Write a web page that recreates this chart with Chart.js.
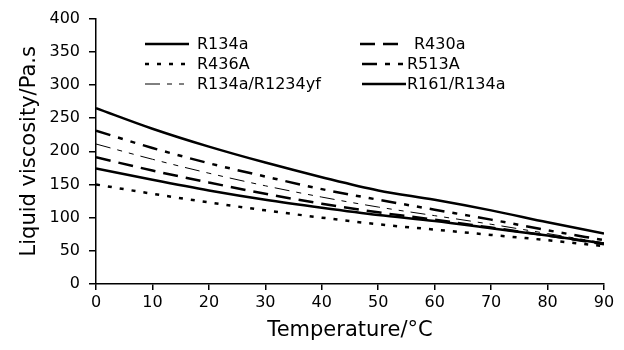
<!DOCTYPE html>
<html>
<head>
<meta charset="utf-8">
<script src="https://cdn.jsdelivr.net/npm/chart.js@4.4.1/dist/chart.umd.min.js"></script>
<style>
  html, body { margin: 0; padding: 0; background: #fff; }
  #wrap { width: 624px; height: 350px; }
</style>
</head>
<body>
<div id="wrap"><canvas id="myChart" width="624" height="350"></canvas></div>
<script>
var temps = [0, 10, 20, 30, 40, 50, 60, 70, 80, 90];
var yTicks = [0, 50, 100, 150, 200, 250, 300, 350, 400];

var r134a     = [265, 234, 207, 183, 161, 141, 127, 111, 93, 76];
var r513a     = [231, 205, 182, 162, 143, 127, 112, 97, 81, 66];
var r134aYf   = [211, 188, 167, 148, 131, 116, 103, 90, 76, 62];
var r430a     = [191, 171, 153, 136, 121, 108, 97, 85, 73, 60];
var r161      = [174, 157, 141, 127, 115, 104, 95, 84, 73, 61];
var r436a     = [150, 136, 123, 111, 100, 90, 82, 74, 66, 57];

var FONT = "'DejaVu Sans', sans-serif";

function pts(vals) {
  return temps.map(function (t, i) { return {x: t, y: vals[i]}; });
}

function ds(label, vals, width, dash, lx, ly, tx) {
  return {
    label: label,
    data: pts(vals),
    borderColor: '#000',
    backgroundColor: '#000',
    borderWidth: width,
    borderDash: dash,
    pointRadius: 0,
    fill: false,
    cubicInterpolationMode: 'monotone',
    // legend placement (own legend below)
    lx: lx, ly: ly, tx: tx
  };
}

var datasets = [
  ds('R134a', r134a, 2.5, [], 145, 44, 197),
  ds('R430a', r430a, 2.5, [15, 8], 360, 44, 414),
  ds('R436A', r436a, 2.5, [4, 8], 145, 64, 197),
  ds('R513A', r513a, 2.5, [15, 8, 5, 8, 5, 8], 362, 64, 407),
  ds('R134a/R1234yf', r134aYf, 1, [15, 7, 5, 7, 5, 7], 145, 84, 197),
  ds('R161/R134a', r161, 2.5, [], 362, 84, 407)
];

var legendPlugin = {
  id: 'gridLegend',
  afterDraw: function (chart) {
    var c = chart.ctx;
    c.save();
    chart.data.datasets.forEach(function (d) {
      c.strokeStyle = '#000';
      c.lineWidth = d.borderWidth;
      c.setLineDash(d.borderDash);
      c.beginPath();
      c.moveTo(d.lx, d.ly);
      c.lineTo(d.lx + 44, d.ly);
      c.stroke();
      c.setLineDash([]);
      c.fillStyle = '#000';
      c.font = '16px ' + FONT;
      c.textBaseline = 'middle';
      c.textAlign = 'left';
      c.fillText(d.label, d.tx, d.ly + 1);
    });
    c.restore();
  }
};

var ctx = document.getElementById('myChart');

var myChart = new Chart(ctx, {
  type: 'line',
  data: { datasets: datasets },
  plugins: [legendPlugin],
  options: {
    responsive: false,
    animation: false,
    layout: { padding: { left: 0, right: 20, top: 18, bottom: 0 } },
    plugins: {
      legend: { display: false },
      tooltip: { enabled: false }
    },
    scales: {
      x: {
        type: 'linear',
        min: 0,
        max: 90,
        afterFit: function (s) { s.height = 66; },
        afterBuildTicks: function (s) { s.ticks = temps.map(function (v) { return {value: v}; }); },
        border: { display: true, color: '#000', width: 1.5 },
        grid: { drawOnChartArea: false, drawTicks: true, tickLength: 6, color: '#000', lineWidth: 1.5 },
        ticks: { color: '#000', font: { family: FONT, size: 16 }, padding: 3, maxRotation: 0 },
        title: { display: true, text: 'Temperature/°C', color: '#000', font: { family: FONT, size: 21 }, padding: { top: 0, bottom: 7 } }
      },
      y: {
        min: 0,
        max: 400,
        afterFit: function (s) { s.width = 96; },
        afterBuildTicks: function (s) { s.ticks = yTicks.map(function (v) { return {value: v}; }); },
        border: { display: true, color: '#000', width: 1.5 },
        grid: { drawOnChartArea: false, drawTicks: true, tickLength: 7, color: '#000', lineWidth: 1.5 },
        ticks: { color: '#000', font: { family: FONT, size: 16 }, padding: 9 },
        title: { display: true, text: 'Liquid viscosity/Pa.s', color: '#000', font: { family: FONT, size: 21 }, padding: { top: 17, bottom: 0 } }
      }
    }
  }
});
</script>
</body>
</html>
